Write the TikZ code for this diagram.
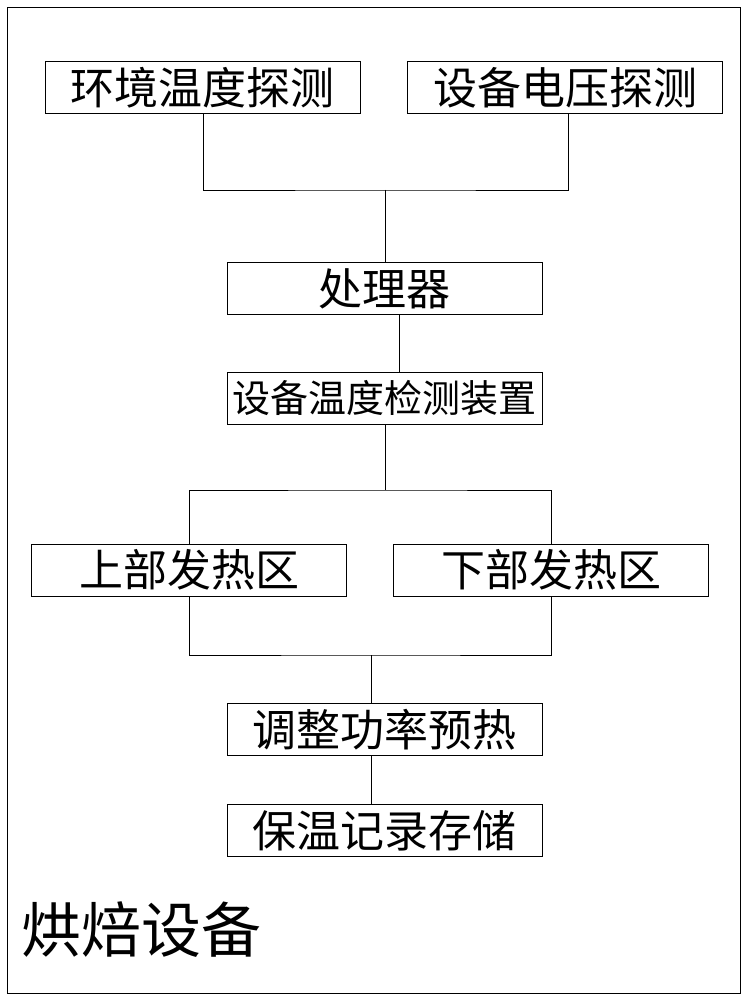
\documentclass[tikz,border=0pt]{standalone}
\usepackage{fontspec}
\newfontfamily\cjk{Noto Sans CJK SC}
\begin{document}
\begin{tikzpicture}[x=1pt,y=-1pt,
 bx/.style={draw,line width=0.8pt,minimum width=315pt,minimum height=52pt,inner sep=0pt,font=\cjk\fontsize{44}{44}\selectfont},
 ln/.style={line width=0.8pt}]
\useasboundingbox (0,0) rectangle (747,1000);
\draw[line width=0.8pt] (7,7) rectangle (740,993);
\node[bx] (a) at (202.5,87.5) {环境温度探测};
\node[bx] (b) at (565,87.5) {设备电压探测};
\node[bx] (c) at (384.5,288.5) {处理器};
\node[bx,font=\cjk\fontsize{38}{38}\selectfont] (d) at (384.5,398.5) {设备温度检测装置};
\node[bx] (e) at (189,570) {上部发热区};
\node[bx] (f) at (551,570) {下部发热区};
\node[bx] (g) at (384.5,729.5) {调整功率预热};
\node[bx] (h) at (384.5,830.5) {保温记录存储};
\node[anchor=west,font=\cjk\fontsize{60}{60}\selectfont] (t) at (18,930) {烘焙设备};
\coordinate (j1) at (385,190);
\draw[ln] (a.south -| 203,0) |- (j1) -| (b.south -| 568,0);
\draw[ln] (j1) -- (c.north -| 385,0);
\draw[ln] (c.south -| 399,0) -- (d.north -| 399,0);
\coordinate (j2) at (385,490);
\draw[ln] (d.south -| 385,0) -- (j2);
\draw[ln] (e.north) |- (j2) -| (f.north);
\coordinate (j3) at (371,655);
\draw[ln] (e.south) |- (j3) -| (f.south);
\draw[ln] (j3) -- (g.north -| 371,0);
\draw[ln] (g.south -| 371,0) -- (h.north -| 371,0);
\end{tikzpicture}
\end{document}
